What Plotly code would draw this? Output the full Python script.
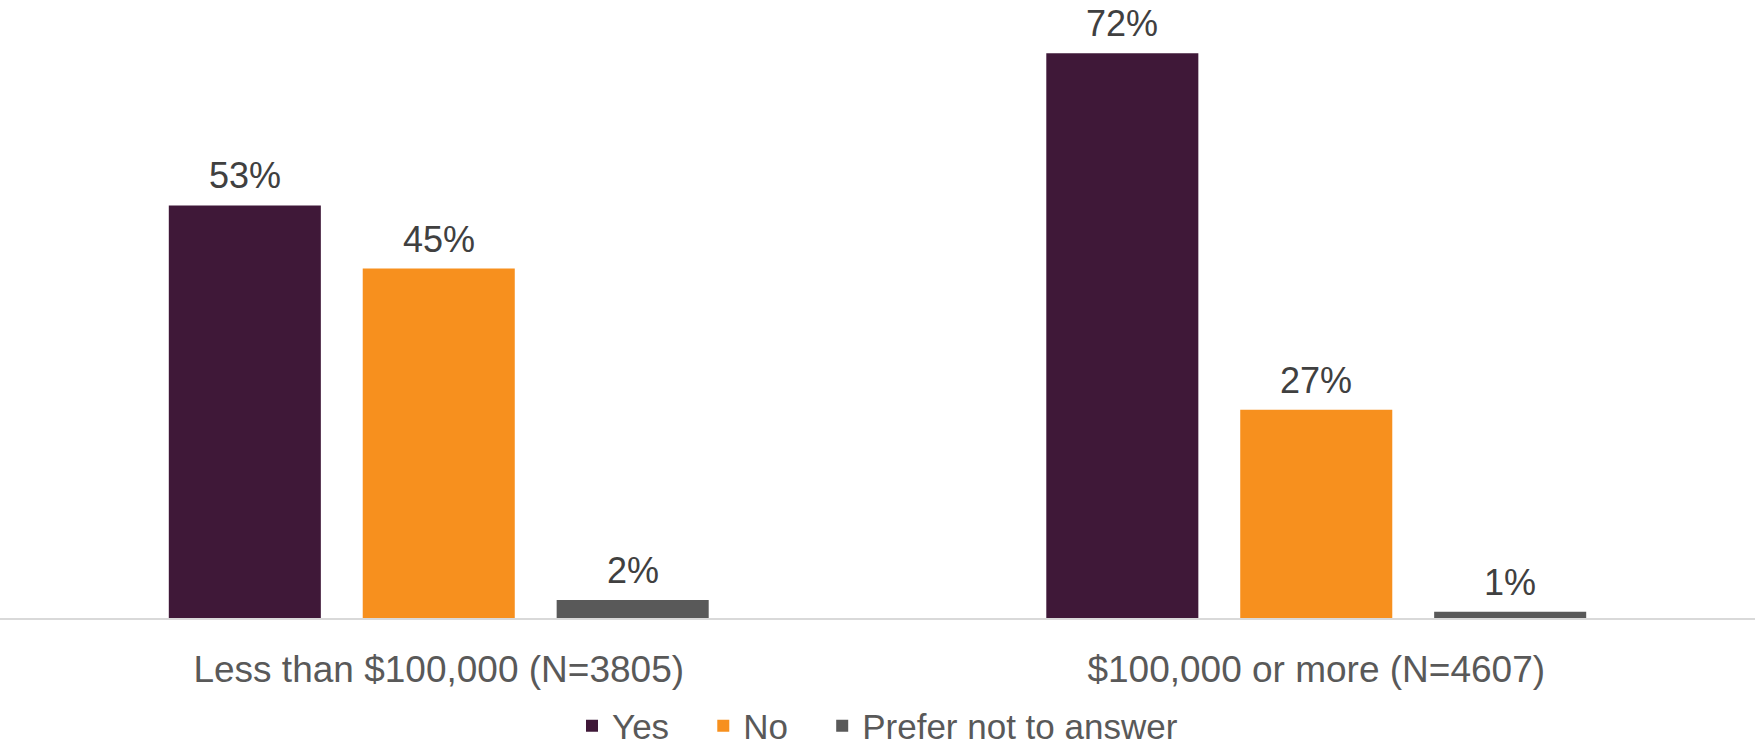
import plotly.graph_objects as go

categories = ["Less than $100,000 (N=3805)", "$100,000 or more (N=4607)"]
series_names = ["Yes", "No", "Prefer not to answer"]
yes_values = [52.9, 72.4]
no_values = [44.8, 26.7]
prefer_values = [2.3, 0.8]
colors = ["#3F1838", "#F7901E", "#595959"]

W, H = 1755, 746
base_y = 618
px_per_pct = 7.8
FONT = "Liberation Sans, Arial"
NBSP = "\u00a0"

fig = go.Figure()
all_vals = [yes_values, no_values, prefer_values]
pads = [NBSP * 3, NBSP * 3, ""]
for name, vals, col, pad in zip(series_names, all_vals, colors, pads):
    fig.add_trace(go.Bar(
        x=categories, y=vals, name=name + pad, marker_color=col,
        marker_line_width=0,
    ))

# value labels above bars
offsets = [-194, 0, 194]
for vals, off in zip(all_vals, offsets):
    for cat, v in zip(categories, vals):
        fig.add_annotation(x=cat, y=v, xref="x", yref="y", text=f"{v:.0f}%",
                           showarrow=False, xshift=off, yanchor="bottom", yshift=7,
                           font=dict(size=36, color="#404040", family=FONT))

fig.update_layout(
    width=W, height=H,
    margin=dict(l=0, r=0, t=0, b=H - base_y, autoexpand=False),
    paper_bgcolor="white", plot_bgcolor="white",
    barmode="group", bargap=0.337, bargroupgap=0.216,
    font=dict(family=FONT, color="#595959"),
    showlegend=True,
    legend=dict(orientation="h", x=0.5, xanchor="center", y=-(726 - base_y) / base_y,
                yanchor="middle", font=dict(size=35, color="#595959"),
                tracegroupgap=0, itemwidth=30),
    xaxis=dict(showline=True, linecolor="#D9D9D9", linewidth=2, ticks="",
               tickfont=dict(size=37, color="#595959"), ticklabelstandoff=18),
    yaxis=dict(range=[0, base_y / px_per_pct], visible=False),
)

fig.write_html("out.html", config={"displayModeBar": False},
               post_script="document.body.style.margin='0px';document.body.style.overflow='hidden';")
